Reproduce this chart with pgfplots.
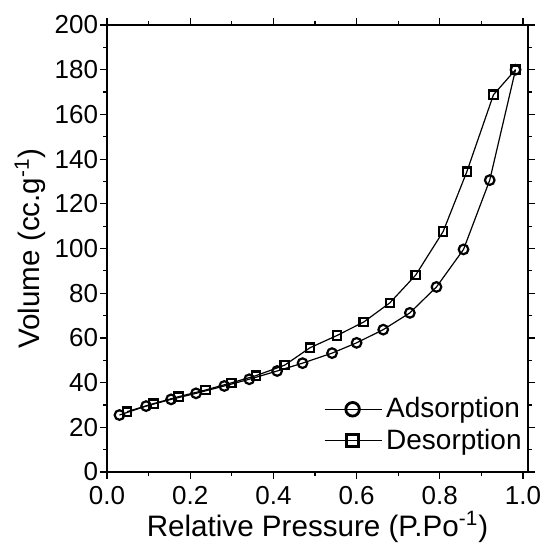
\documentclass[border=0pt]{standalone}
\usepackage{fontspec}
\setmainfont{Liberation Sans}
\usepackage{pgfplots}
\pgfplotsset{compat=1.18}

\begin{document}
\begin{tikzpicture}
\begin{axis}[
  scale only axis,
  width=210.5pt, height=223.5pt,
  xmin=0, xmax=1.012, ymin=0, ymax=200,
  xtick={0,0.2,0.4,0.6,0.8,1.0},
  ytick={0,20,...,200},
  minor x tick num=1, minor y tick num=1,
  tick align=outside,
  major tick length=3.5pt, minor tick length=1.8pt,
  tick style={black, line width=0.6pt},
  axis line style={line width=0.7pt},
  /pgf/number format/assume math mode=true,
  xticklabel style={/pgf/number format/.cd, fixed, fixed zerofill, precision=1},
  yticklabel style={/pgf/number format/fixed, inner sep=0.8pt},
  ticklabel style={font=\fontsize{13}{15}\selectfont},
  xlabel={Relative Pressure (P.Po\textsuperscript{-1})},
  ylabel={Volume (cc.g\textsuperscript{-1})},
  label style={font=\fontsize{14.8}{17}\selectfont},
  xlabel style={at={(axis description cs:0.5,-0.123)}, anchor=center},
  ylabel style={at={(axis description cs:-0.183,0.5)}, anchor=center},
  legend style={at={(axis description cs:1.0,0.03)}, anchor=south east,
    draw=none, fill=none, font=\fontsize{14}{16}\selectfont,
    row sep=0pt, inner sep=1pt},
  legend cell align=left,
  legend image code/.code={\draw[mark repeat=2, mark phase=2]
    plot coordinates {(0pt,0pt)(14pt,0pt)(28.5pt,0pt)};},
]
\addplot[black, line width=0.6pt, mark=o, mark size=2.4pt,
  mark options={line width=1.1pt, fill=white}, forget plot] coordinates {
  (0.030,25.5) (0.094,29.5) (0.154,32.5) (0.214,35.2) (0.282,38.5)
  (0.342,41.5) (0.409,45.2) (0.470,48.7) (0.541,53.2) (0.600,57.8)
  (0.664,63.7) (0.728,71.2) (0.792,82.8) (0.857,99.6) (0.920,130.6)
  (0.982,180.0)
};
\addplot[black, line width=0.6pt, mark=square, mark size=2.1pt,
  mark options={line width=1.1pt, fill=white}, forget plot] coordinates {
  (0.982,180.0) (0.929,168.8) (0.865,134.4) (0.808,107.6) (0.742,88.1)
  (0.680,75.7) (0.617,67.1) (0.553,61.1) (0.488,55.6) (0.427,47.8)
  (0.358,43.1) (0.299,39.9) (0.237,36.7) (0.172,33.7) (0.112,30.6)
  (0.048,27.0)
};
\addlegendimage{black, line width=0.6pt, mark=o, mark size=3.4pt,
  mark options={line width=1.4pt, fill=white}}
\addlegendentry{Adsorption}
\addlegendimage{black, line width=0.6pt, mark=square, mark size=3pt,
  mark options={line width=1.4pt, fill=white}}
\addlegendentry{Desorption}
\end{axis}
\pgfresetboundingbox
\useasboundingbox (-53.5pt,-35.5pt) rectangle (218.5pt,236pt);
\end{tikzpicture}
\end{document}
